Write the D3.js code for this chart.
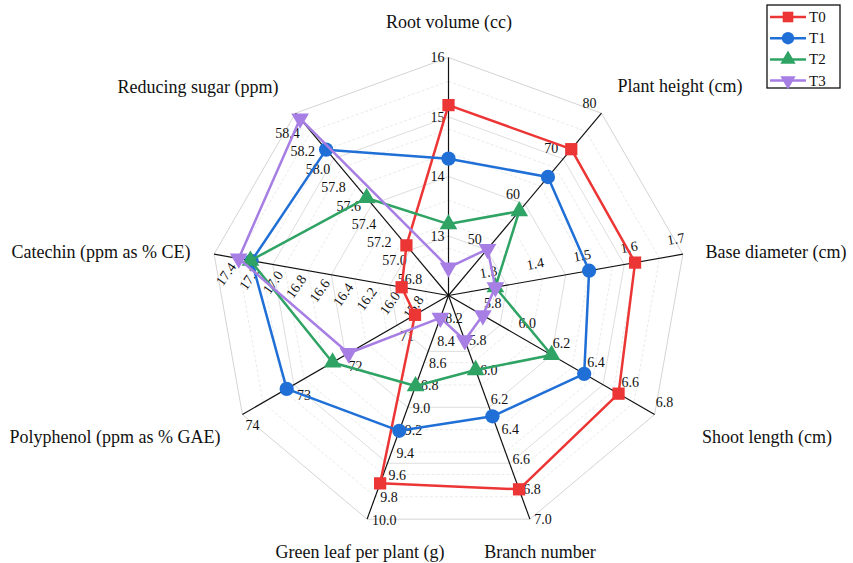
<!DOCTYPE html>
<html>
<head>
<meta charset="utf-8">
<script src="https://cdn.jsdelivr.net/npm/d3@7"></script>
<style>
  html, body { margin: 0; padding: 0; background: #fff; }
  svg { display: block; }
  text { font-family: "Liberation Serif", "Times New Roman", serif; fill: #111; }
</style>
</head>
<body>
<svg id="chart" width="853" height="563"></svg>
<script>
// ---------- data ----------
const axisNames = [
  "Root volume (cc)", "Plant height (cm)", "Base diameter (cm)", "Shoot length (cm)",
  "Branch number", "Green leaf per plant (g)", "Polyphenol (ppm as % GAE)",
  "Catechin (ppm as % CE)", "Reducing sugar (ppm)"
];
const axisMin = [12, 40, 1.2, 5.6, 5.5, 8.0, 70, 15.4, 56.4];
const axisMax = [16, 80, 1.7, 6.8, 7.0, 10.0, 74, 17.4, 58.4];
const tickRootVolume   = [13, 14, 15, 16];
const tickPlantHeight  = [50, 60, 70, 80];
const tickBaseDiameter = [1.3, 1.4, 1.5, 1.6, 1.7];
const tickShootLength  = [5.8, 6.0, 6.2, 6.4, 6.6, 6.8];
const tickBranch       = [5.8, 6.0, 6.2, 6.4, 6.6, 6.8, 7.0];
const tickGreenLeaf    = [8.2, 8.4, 8.6, 8.8, 9.0, 9.2, 9.4, 9.6, 9.8, 10.0];
const tickPolyphenol   = [71, 72, 73, 74];
const tickCatechin     = [15.8, 16.0, 16.2, 16.4, 16.6, 16.8, 17.0, 17.2, 17.4];
const tickSugar        = [56.8, 57.0, 57.2, 57.4, 57.6, 57.8, 58.0, 58.2, 58.4];
const tickDecimals     = [0, 0, 1, 1, 1, 1, 0, 1, 1];

const seriesNames = ["T0", "T1", "T2", "T3"];
const T0 = [15.2, 72.1, 1.598, 6.59, 6.80, 9.68, 70.65, 15.80, 56.95];
const T1 = [14.3, 66.0, 1.500, 6.39, 6.31, 9.21, 73.14, 17.08, 58.00];
const T2 = [13.2, 58.5, 1.300, 6.20, 6.00, 8.81, 72.25, 17.09, 57.47];
const T3 = [12.47, 50.2, 1.300, 5.80, 5.80, 8.20, 71.94, 17.19, 58.34];

// ---------- layout / style ----------
const allTicks = [tickRootVolume, tickPlantHeight, tickBaseDiameter, tickShootLength,
  tickBranch, tickGreenLeaf, tickPolyphenol, tickCatechin, tickSugar];
const seriesValues = [T0, T1, T2, T3];
const colors = ["#ec3535", "#1f6fd6", "#2fa364", "#a67ee4"];
const symbols = [d3.symbolSquare, d3.symbolCircle, d3.symbolTriangle, d3.symbolTriangle];
const symRot = [0, 0, 0, 180];
const symSize = [150, 160, 135, 135];

const cx = 448.5, cy = 295.5, R = 238;
const n = axisNames.length;
const angle = i => i * 2 * Math.PI / n;
const scales = axisMin.map((m, i) => d3.scaleLinear().domain([m, axisMax[i]]).range([0, R]));
const pt = (i, r) => [cx + r * Math.sin(angle(i)), cy - r * Math.cos(angle(i))];

// tick label offsets [dx, dy, anchor, rotate]
const tickStyle = [
  [-4, 0, "end", 0],
  [-12, -10, "middle", 0],
  [-7, -15, "middle", -10],
  [10, -12, "middle", 0],
  [13, 0, "middle", 0],
  [5, 1, "start", 0],
  [10, 11, "middle", 0],
  [12, 20, "middle", -55],
  [-8, 20, "middle", 0]
];
const titlePos = [
  [449, 22], [680, 86], [776, 252], [767, 437], [540, 552],
  [360, 552], [115, 437], [101, 252], [198, 87]
];

const svg = d3.select("#chart");

// ---------- grid ----------
const gridG = svg.append("g");
const ring = r => d3.range(n).map(i => pt(i, r));
const lineClosed = d3.line().curve(d3.curveLinearClosed);
d3.range(1, 10).forEach(k => {
  if (k % 5 === 0) return;
  gridG.append("path").attr("d", lineClosed(ring(R * k / 10)))
    .attr("fill", "none").attr("stroke", "#e4e4e4").attr("stroke-width", 0.8)
    .attr("stroke-dasharray", "3,2");
});
[1, 2, 3, 4].forEach(k => {
  gridG.append("path").attr("d", lineClosed(ring(R * k / 4)))
    .attr("fill", "none").attr("stroke", k === 4 ? "#d4d4d4" : "#dedede").attr("stroke-width", 1);
});

// ---------- axes ----------
const axG = svg.append("g");
for (let i = 0; i < n; i++) {
  const e = pt(i, R);
  axG.append("line").attr("x1", cx).attr("y1", cy).attr("x2", e[0]).attr("y2", e[1])
    .attr("stroke", "#111").attr("stroke-width", 1.2);
}

// ---------- tick labels ----------
const tickG = svg.append("g");
allTicks.forEach((ticks, i) => {
  const st = tickStyle[i];
  const fmt = d3.format("." + tickDecimals[i] + "f");
  ticks.forEach(v => {
    const p = pt(i, scales[i](v));
    const x = p[0] + st[0], y = p[1] + st[1];
    tickG.append("text")
      .attr("x", x).attr("y", y)
      .attr("text-anchor", st[2])
      .attr("dominant-baseline", "central")
      .attr("transform", st[3] ? `rotate(${st[3]},${x},${y})` : null)
      .style("font-size", "14px")
      .text(fmt(v));
  });
});

// ---------- axis titles ----------
axisNames.forEach((name, i) => {
  svg.append("text").attr("x", titlePos[i][0]).attr("y", titlePos[i][1])
    .attr("text-anchor", "middle").attr("dominant-baseline", "central")
    .style("font-size", "18px").text(name);
});

// ---------- series ----------
const seriesG = svg.append("g");
seriesValues.forEach((vals, s) => {
  const pts = vals.map((v, i) => pt(i, scales[i](v)));
  const g = seriesG.append("g");
  g.append("path").attr("d", lineClosed(pts))
    .attr("fill", "none").attr("stroke", colors[s]).attr("stroke-width", 2.5)
    .attr("stroke-linejoin", "round");
  g.selectAll("path.m").data(pts).enter().append("path").attr("class", "m")
    .attr("d", d3.symbol().type(symbols[s]).size(symSize[s]))
    .attr("transform", d => `translate(${d[0]},${d[1]}) rotate(${symRot[s]})`)
    .attr("fill", colors[s]);
});

// ---------- legend ----------
const lg = svg.append("g");
lg.append("rect").attr("x", 767).attr("y", 5).attr("width", 73).attr("height", 83)
  .attr("fill", "#fff").attr("stroke", "#111").attr("stroke-width", 1.3);
seriesNames.forEach((name, s) => {
  const y = 17 + s * 21.2;
  lg.append("line").attr("x1", 770).attr("x2", 806).attr("y1", y).attr("y2", y)
    .attr("stroke", colors[s]).attr("stroke-width", 2.5);
  lg.append("path").attr("d", d3.symbol().type(symbols[s]).size(symSize[s] * 0.75))
    .attr("transform", `translate(788,${y}) rotate(${symRot[s]})`)
    .attr("fill", colors[s]);
  lg.append("text").attr("x", 809).attr("y", y).attr("dominant-baseline", "central")
    .style("font-size", "15px").text(name);
});
</script>
</body>
</html>
